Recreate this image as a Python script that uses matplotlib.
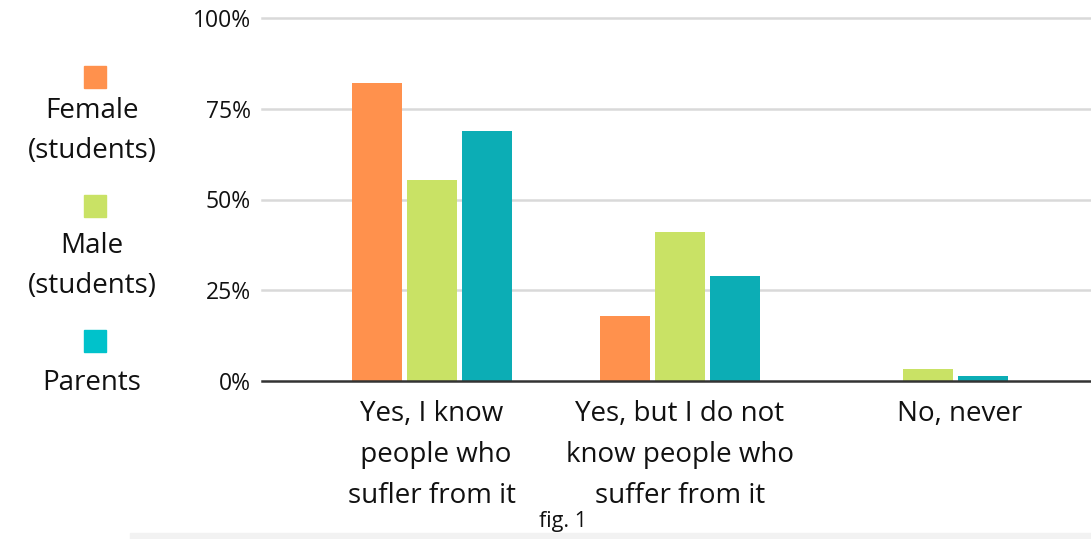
import numpy as np
import matplotlib.pyplot as plt
import matplotlib.transforms as mtransforms
from matplotlib.patches import Rectangle

plt.rcParams['font.family'] = ['Open Sans', 'DejaVu Sans']

# data
categories = ["Yes, I know\n people who\nsufler from it",
              "Yes, but I do not\nknow people who\nsuffer from it",
              "No, never"]
series_names = ["Female\n(students)", "Male\n(students)", "Parents"]
female = [82, 18, 0]
male = [55.5, 41, 3.3]
parents = [69, 29, 1.4]
yticks = [0, 25, 50, 75, 100]

bar_colors = ["#FF914D", "#C9E265", "#0CADB5"]
legend_colors = ["#FF914D", "#C9E265", "#00C2CB"]

W, H = 1091, 539
fig = plt.figure(figsize=(W / 100, H / 100), dpi=100)
ax = fig.add_axes([262 / W, 1 - 381 / H, (W - 262) / W, 363 / H])

x = np.arange(len(categories))
width = 0.2
offset = 0.222
for i, vals in enumerate([female, male, parents]):
    ax.bar(x + (i - 1) * offset, vals, width, color=bar_colors[i], zorder=3)

ax.set_xlim(-0.685, 2.657)
ax.set_ylim(0, 100)
ax.set_yticks(yticks)
ax.set_yticklabels([f"{t}%" for t in yticks], fontsize=16.5, color="#111111")
ax.tick_params(axis="y", length=0, pad=8)
ax.set_xticks(x)
ax.set_xticklabels(categories, fontsize=20, color="#111111", linespacing=1.62)
ax.tick_params(axis="x", length=0, pad=13.5)
# the last label sits a little to the right in the original
lbl = ax.get_xticklabels()[2]
lbl.set_transform(lbl.get_transform() + mtransforms.ScaledTranslation(0.32, 0, fig.dpi_scale_trans))

for t in yticks[1:]:
    ax.axhline(t, color="#d9d9d9", lw=1.8, zorder=1, clip_on=False)
ax.axhline(0, color="#333333", lw=1.8, zorder=4, clip_on=False)
for s in ax.spines.values():
    s.set_visible(False)

# legend drawn on the left
legend_sq = [77, 206, 341]
legend_txt = [131, 266, 383]
for c, name, sy, ty in zip(legend_colors, series_names, legend_sq, legend_txt):
    fig.patches.append(Rectangle(((95 - 11) / W, 1 - (sy + 11) / H), 22 / W, 22 / H,
                                 transform=fig.transFigure, color=c))
    fig.text(92 / W, 1 - ty / H, name, ha="center", va="center",
             fontsize=20, color="#111111", linespacing=1.6)

fig.text(563 / W, 1 - 521 / H, "fig. 1", ha="center", va="center",
         fontsize=15.5, color="#111111")
fig.patches.append(Rectangle((130 / W, 0), (W - 130) / W, 6 / H,
                             transform=fig.transFigure, color="#f2f2f2"))

fig.savefig("out.png", dpi=100)
